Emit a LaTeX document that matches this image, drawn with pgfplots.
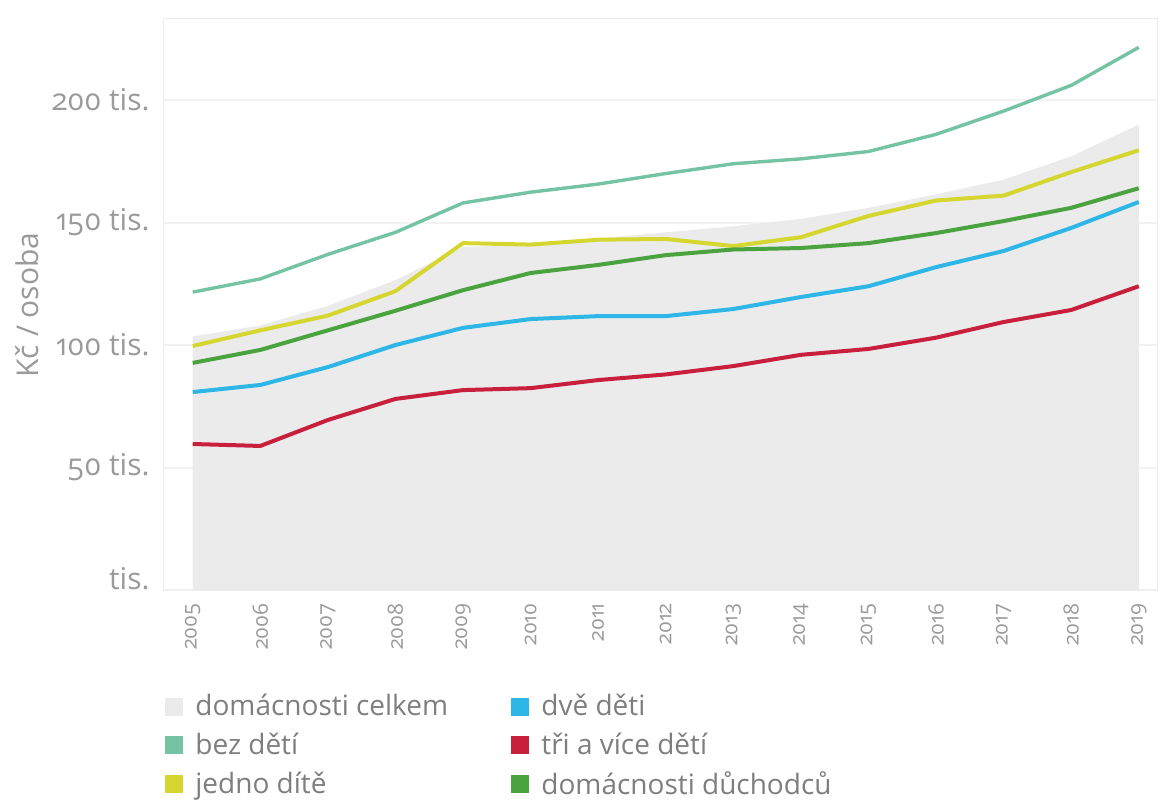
\documentclass[border=0pt]{standalone}
\usepackage{fontspec}
\setmainfont{Open Sans}[Numbers=OldStyle]
\usepackage{pgfplots}
\pgfplotsset{compat=1.18}

\definecolor{celkem}{HTML}{EBEBEB}
\definecolor{bez}{HTML}{74C3A3}
\definecolor{jedno}{HTML}{D6D630}
\definecolor{dve}{HTML}{2DB6E6}
\definecolor{tri}{HTML}{C81F3D}
\definecolor{duch}{HTML}{4AA33E}
\definecolor{txt}{HTML}{9A9A9A}
\definecolor{legtxt}{HTML}{7E7E7E}

\begin{document}
\begin{tikzpicture}
\useasboundingbox (-81.5bp,-106bp) rectangle (500.5bp,295bp);
\begin{axis}[
    at={(0,0)}, anchor=south west,
    scale only axis,
    width=497bp, height=286bp,
    xmin=2004.56, xmax=2019.27,
    ymin=0, ymax=233.5,
    axis line style={draw=black!7},
    major tick length=0pt,
    xtick={2005,2006,2007,2008,2009,2010,2011,2012,2013,2014,2015,2016,2017,2018,2019},
    xticklabels={2005,2006,2007,2008,2009,2010,2011,2012,2013,2014,2015,2016,2017,2018,2019},
    ytick={0,50,100,150,200},
    yticklabels={\raisebox{12bp}{tis.},50 tis.,100 tis.,150 tis.,200 tis.},
    ymajorgrids,
    grid style={draw=black!5, line width=1bp},
    x tick label style={rotate=90, anchor=east, inner sep=0pt, text=txt,
        font=\fontsize{10.5bp}{12bp}\selectfont},
    xticklabel shift=6.5bp,
    y tick label style={anchor=east, inner sep=0pt, text=txt,
        font=\fontsize{15bp}{18bp}\selectfont},
    yticklabel shift=6.5bp,
    legend columns=3,
    transpose legend,
    legend cell align=left,
    legend style={at={(axis description cs:0,0)}, anchor=north west,
        xshift=1bp, yshift=-52bp,
        draw=none, fill=none, inner sep=0pt, row sep=7bp,
        font=\fontsize{14bp}{16bp}\selectfont, text=legtxt,
        nodes={inner sep=0pt}},
    legend image code/.code={
        \fill[#1, draw=none] (0bp,-4.5bp) rectangle (9bp,4.5bp);
        \path (14bp,0bp);
    },
]

% domacnosti celkem
\addplot[fill=celkem, draw=none, color=celkem] coordinates {
    (2005,103.5) (2006,108) (2007,116) (2008,126.5) (2009,140)
    (2010,141) (2011,143.5) (2012,146) (2013,148.5) (2014,151.5)
    (2015,156) (2016,161.5) (2017,167.5) (2018,177) (2019,190)
} \closedcycle;
\addlegendentry{\makebox[158bp][l]{domácnosti celkem}}

% bez deti
\addplot[color=bez, line width=1.7bp, line join=round] coordinates {
    (2005,121.6) (2006,127) (2007,137) (2008,146) (2009,158)
    (2010,162.4) (2011,165.7) (2012,170) (2013,174) (2014,176)
    (2015,179) (2016,186) (2017,195.5) (2018,206) (2019,221.5)
};
\addlegendentry{\makebox[158bp][l]{bez dětí}}

% jedno dite
\addplot[color=jedno, line width=2bp, line join=round] coordinates {
    (2005,99.6) (2006,106) (2007,112) (2008,122) (2009,141.6)
    (2010,141) (2011,143) (2012,143.3) (2013,140.4) (2014,144)
    (2015,152.7) (2016,159) (2017,161) (2018,170.6) (2019,179.5)
};
\addlegendentry{\makebox[158bp][l]{jedno dítě}}

% dve deti
\addplot[color=dve, line width=2bp, line join=round] coordinates {
    (2005,80.8) (2006,83.7) (2007,91) (2008,100) (2009,107)
    (2010,110.6) (2011,111.8) (2012,111.8) (2013,114.7) (2014,119.6)
    (2015,124) (2016,131.8) (2017,138.4) (2018,147.8) (2019,158.4)
};
\addlegendentry{dvě děti}

% tri a vice deti
\addplot[color=tri, line width=2bp, line join=round] coordinates {
    (2005,59.6) (2006,58.8) (2007,69.4) (2008,78) (2009,81.6)
    (2010,82.4) (2011,85.7) (2012,88) (2013,91.4) (2014,96)
    (2015,98.4) (2016,103) (2017,109.4) (2018,114.3) (2019,124)
};
\addlegendentry{tři a více dětí}

% domacnosti duchodcu
\addplot[color=duch, line width=2bp, line join=round] coordinates {
    (2005,92.7) (2006,98) (2007,106) (2008,114) (2009,122.4)
    (2010,129.4) (2011,132.7) (2012,136.7) (2013,139) (2014,139.6)
    (2015,141.6) (2016,145.7) (2017,150.6) (2018,156) (2019,164)
};
\addlegendentry{domácnosti důchodců}

\end{axis}
\node[rotate=90, text=txt, font=\fontsize{15bp}{18bp}\selectfont] at (-68bp,142.5bp) {Kč / osoba};
\end{tikzpicture}
\end{document}
